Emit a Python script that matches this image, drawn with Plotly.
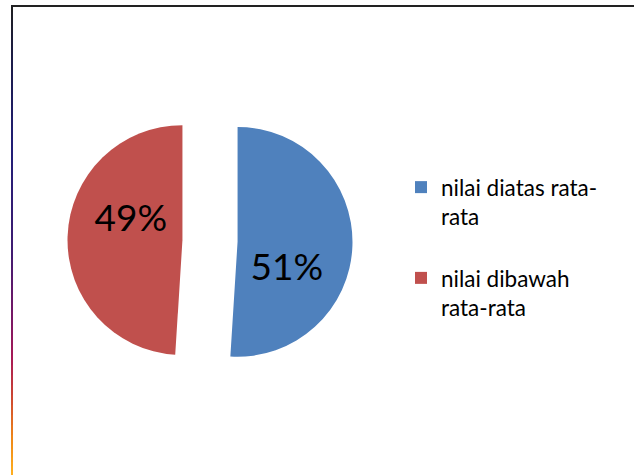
import plotly.graph_objects as go

# ---- data ----
labels = ["nilai diatas rata-<br>rata<br> ", "nilai dibawah<br>rata-rata<br> "]
values = [51, 49]
colors = ["#4F81BD", "#C0504D"]
label_templates = [" <br>%{percent:.0%}", "%{percent:.0%}<br> "]

W, H = 634, 475

fig = go.Figure()
fig.add_trace(go.Pie(
    labels=labels,
    values=values,
    sort=False,
    direction="clockwise",
    rotation=0,
    pull=[0.24, 0.24],
    marker=dict(colors=colors, line=dict(width=0)),
    texttemplate=label_templates,
    textposition="inside",
    insidetextorientation="horizontal",
    textfont=dict(family="Lato", size=37, color="black"),
    domain=dict(x=[67.5 / W, 352.5 / W], y=[1 - 383.5 / H, 1 - 98.5 / H]),
    hoverinfo="skip",
))

shapes = []
# top border
shapes.append(dict(type="rect", xref="paper", yref="paper",
                   x0=11 / W, x1=1, y0=1 - 5 / H, y1=1 - 7 / H,
                   fillcolor="#222222", line=dict(width=0)))
# left border with gradient look
stops = [(5, "#202020"), (60, "#1c1c48"), (150, "#221f78"), (250, "#3f1c72"),
         (320, "#7a1866"), (360, "#aa1a55"), (400, "#d04a30"), (440, "#f08a18"),
         (475, "#ffb020")]
def hex2rgb(h):
    h = h.lstrip("#")
    return tuple(int(h[i:i + 2], 16) for i in (0, 2, 4))
for i in range(len(stops) - 1):
    ya, ca = stops[i]
    yb, cb = stops[i + 1]
    n = 8
    ra, rb = hex2rgb(ca), hex2rgb(cb)
    for k in range(n):
        t0 = ya + (yb - ya) * k / n
        t1 = ya + (yb - ya) * (k + 1) / n + 1
        f = (k + 0.5) / n
        c = tuple(int(ra[j] + (rb[j] - ra[j]) * f) for j in range(3))
        shapes.append(dict(type="rect", xref="paper", yref="paper",
                           x0=11 / W, x1=13 / W, y0=1 - t0 / H, y1=1 - min(t1, H) / H,
                           fillcolor="rgb(%d,%d,%d)" % c, line=dict(width=0)))

fig.update_layout(
    width=W, height=H,
    margin=dict(l=0, r=0, t=0, b=0),
    paper_bgcolor="white",
    plot_bgcolor="white",
    showlegend=True,
    legend=dict(x=401 / W, xanchor="left", y=1 - 166 / H, yanchor="top",
                valign="top",
                font=dict(family="Lato", size=22.5, color="black"),
                bgcolor="rgba(0,0,0,0)", tracegroupgap=0),
    shapes=shapes,
)

fig.write_html("out.html", config={"displayModeBar": False},
               post_script="document.body.style.margin='0';")
